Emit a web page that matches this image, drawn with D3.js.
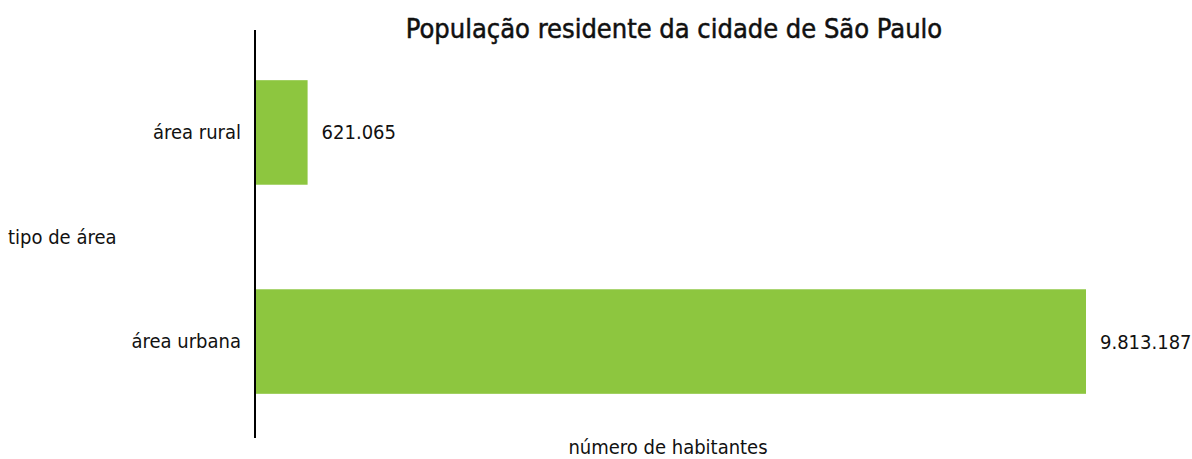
<!DOCTYPE html>
<html>
<head>
<meta charset="utf-8">
<script src="https://cdn.jsdelivr.net/npm/d3@7"></script>
<style>
  html, body { margin: 0; padding: 0; background: #fff; }
  svg text { font-family: "Liberation Sans Narrow", "DejaVu Sans Condensed", "Roboto", sans-serif; fill: #111; }
</style>
</head>
<body>
<svg id="chart" width="1192" height="459"></svg>
<script>
// População residente por tipo de área
const categories = ["área rural", "área urbana"];
const values = [621065, 9813187];
const valueLabels = ["621.065", "9.813.187"];

const svg = d3.select("#chart");
const margin = { left: 255, right: 106, top: 30, bottom: 15 };
const W = 1192, H = 459;

const x = d3.scaleLinear()
  .domain([0, d3.max(values)])
  .range([margin.left, W - margin.right]);

const y = d3.scaleBand()
  .domain(categories)
  .range([margin.top, H - margin.bottom])
  .paddingInner(0.5)
  .paddingOuter(0.24);

const data = categories.map((c, i) => ({ c, v: values[i], label: valueLabels[i] }));

// bars
svg.append("g").selectAll("rect")
  .data(data)
  .join("rect")
  .attr("x", x(0))
  .attr("y", d => y(d.c))
  .attr("width", d => x(d.v) - x(0))
  .attr("height", y.bandwidth())
  .attr("fill", "#8dc63f");

// value labels
svg.append("g").selectAll("text")
  .data(data)
  .join("text")
  .attr("x", d => x(d.v) + 14)
  .attr("y", d => y(d.c) + y.bandwidth() / 2)
  .attr("dy", "0.35em")
  .attr("font-size", 20)
  .text(d => d.label);

// category axis
const yAxis = svg.append("g")
  .attr("transform", `translate(${x(0)},0)`)
  .call(d3.axisLeft(y).tickSize(0).tickPadding(14));
yAxis.select(".domain").attr("stroke", "#000").attr("stroke-width", 2)
  .attr("d", `M0,${margin.top}V${H - margin.bottom - 6}`);
yAxis.selectAll("text").attr("font-size", 20).attr("fill", "#111");

// title
svg.append("text")
  .attr("x", 674)
  .attr("y", 38)
  .attr("text-anchor", "middle")
  .attr("font-size", 27)
  .attr("stroke", "#111")
  .attr("stroke-width", 0.5)
  .text("População residente da cidade de São Paulo");

// axis titles
svg.append("text")
  .attr("x", 8)
  .attr("y", 244)
  .attr("font-size", 20)
  .text("tipo de área");

svg.append("text")
  .attr("x", 668)
  .attr("y", 454)
  .attr("text-anchor", "middle")
  .attr("font-size", 20)
  .text("número de habitantes");
</script>
</body>
</html>
